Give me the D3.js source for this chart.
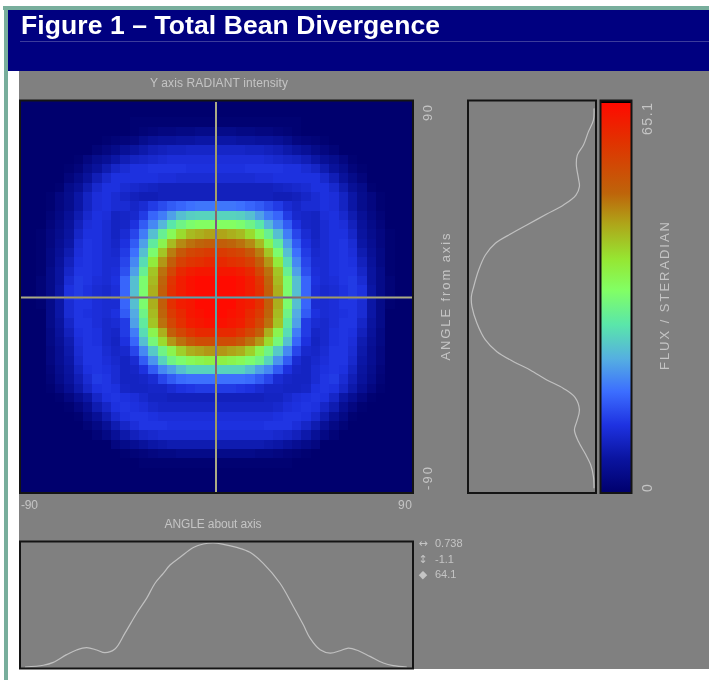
<!DOCTYPE html>
<html>
<head>
<meta charset="utf-8">
<script src="https://d3js.org/d3.v7.min.js"></script>
<style>
    html, body { margin: 0; padding: 0; background: white; }
    svg { display: block; }
    text { font-family: "Liberation Sans", Arial, sans-serif; fill: #c4c4c4; }
</style>
</head>
<body>
<svg id="chart" width="709" height="680"></svg>
<script>
// flux per cell. Left half only, the right half mirrors it.
const fluxUpper = [
    [0,0,0,0,0,0,0,0,0,0,0,0,0,0,0,0,0,0,0,0,0],
    [0,0,0,0,0,0,0,0,0,0,0,0,0,0,0,0,0,0,0,0,0],
    [0,0,0,0,0,0,0,0,0,0,0,0,.5,.5,.5,.5,.5,.5,.5,.5,.5],
    [0,0,0,0,0,0,0,0,0,0,0,0,.5,1,1.5,2,2,2.5,2.5,3,3],
    [0,0,0,0,0,0,0,0,0,.5,1,1.5,2,3.5,4.5,5,5,5.5,5.5,6,6],
    [0,0,0,0,0,0,0,0,1,2,3,4.5,5.5,6.5,7.5,8,8.5,8.5,9,9,9],
    [0,0,0,0,0,0,.5,2,3.5,4.5,6,7.5,8.5,9,9.5,10,10.5,10.5,10.5,10.5,10.5],
    [0,0,0,0,0,.5,1.5,3.5,5,7,9,10,11,11,11.5,11.5,11.5,11.5,11,11,11],
    [0,0,0,0,0,1.5,3,5,7.5,9.5,11,11,11,11,11,10.5,10.5,10,10,10,10],
    [0,0,0,0,.5,3,4.5,7,9.5,11,11,10,9.5,9,8.5,8,8,8,8,8,8],
    [0,0,0,.5,2,3.5,6,8.5,10.5,11,10,9,8,7.5,7.5,8,8,8,8,8,8],
    [0,0,0,.5,2,3.5,6,8.5,10.5,11,10,10,9,10,12,13.5,15,16,17,17.5,17.5],
    [0,0,0,1,2.5,4.5,7,9.5,11,10.5,8.5,9,9.5,12,16,18,21,24,25.5,26,26],
    [0,0,0,1.5,3,5,8,10.5,11,10,8.5,9,11,15,19,23,28,31,33,34,34],
    [0,0,.5,2,3.5,5.5,9,11,11,10,8.5,10,13,18,24,30,35,40,43,44,45],
    [0,0,.5,2,4,6,10,11.5,11,10,9,11,15,21,29,36,43,47,49,50,51],
    [0,0,.5,2.5,4.5,7,10.5,11.5,11,10,9.5,12,17,24,33,42,48,52,55,56,57],
    [0,0,.5,2.5,5,8,11,11.5,11,10,10,13,19,27,38,46,51,56,58,59,60],
    [0,0,.5,3,5.5,9,11.5,11.5,11,10,10.5,14,21,30,42,49,55,60,62,63,63],
    [0,0,1,3,5.5,10,12,11.5,10.5,10,11,16,24,33,43,50,58,62,64,65,65],
    [0,0,1,3,6,11,12,11,10,9.5,10.5,16,24,33,44,51,59,62,64,65,65]
];
const fluxLower = [
    [0,0,.5,3,6,10,11.5,11.5,10.5,10,10,16,24,33,44,51,59,62,63,65,65],
    [0,0,0,3,6,10,11.5,11,10.5,10,11,15,22,31,43,50,57,60,63,64,65],
    [0,0,0,3,5.5,9,11.5,11.5,10.5,9.5,10,12,21,29,42,49,55,59,62,63,64],
    [0,0,0,2.5,5,8,11,11.5,11,9.5,9,12,18,27,36,44,51,55,58,60,60],
    [0,0,0,2.5,4.5,7,10.5,11.5,11,9.5,8.5,11,16,24,32,40,46,49,52,54,54],
    [0,0,0,2,4,6.5,10,11.5,11.5,10,9,9.5,13,19,25,31,36,41,44,45,46],
    [0,0,0,2,4,6,9.5,11.5,11.5,10.5,9.5,8.5,10,15,20,26,31,33,35,36,37],
    [0,0,0,1.5,3.5,5.5,8.5,11,11.5,11,10,8.5,9,11,15,19,21,24,26,26,26],
    [0,0,0,1,3,5,7.5,10,12,11.5,10,8.5,8.5,9,10,13,15,16.5,17,17,17],
    [0,0,0,.5,2,4,6.5,9,11,11.5,11,9,8.5,8.5,9,9,10,11,11.5,12,12],
    [0,0,0,0,.5,2,4,6,9,11,11.5,11,10.5,9.5,8.5,8.5,8,8,8,8,8],
    [0,0,0,0,0,.5,2,4,7,9,11,11.5,11,10.5,9.5,9,9,9,9,9,9],
    [0,0,0,0,0,0,.5,2.5,4.5,7,9.5,11,11.5,11.5,11,10.5,10.5,10.5,10.5,10.5,10.5],
    [0,0,0,0,0,0,0,1,2.5,4.5,7,9,10.5,11.5,11.5,11.5,11,11,11,11,11],
    [0,0,0,0,0,0,0,0,1,2.5,4.5,6.5,8,9,9.5,10,10,10,10,10,10],
    [0,0,0,0,0,0,0,0,0,0,2,3,4,5,6,6.5,7,7,7,7,7],
    [0,0,0,0,0,0,0,0,0,0,0,.5,1,1.5,2,2.5,2.5,3,3,3,3],
    [0,0,0,0,0,0,0,0,0,0,0,0,0,.5,.5,.5,.5,.5,.5,.5,.5],
    [0,0,0,0,0,0,0,0,0,0,0,0,0,0,0,0,0,0,0,0,0],
    [0,0,0,0,0,0,0,0,0,0,0,0,0,0,0,0,0,0,0,0,0],
    [0,0,0,0,0,0,0,0,0,0,0,0,0,0,0,0,0,0,0,0,0]
];

// horizontal profile, bottom panel
const xAngles = [-87.7,-79.3,-74.7,-68.6,-64,-59.4,-54.8,-51,-46.4,-41.8,-36.4,-31.8,-28,-24.2,-21.1,-16.5,-10.4,-5.8,-1.2,3.4,9.5,15.6,21.7,29.4,35.5,40.1,43.2,47.8,52.4,57,60.8,65.4,70.7,76.8,81.4,87.6];
const xFlux = [0,.9,2.4,6.4,8.8,10,8.8,7.4,9.3,17.5,27.8,35.6,43.3,48.4,52.7,56.7,61.8,63.6,64.1,63.4,61.8,59.3,53.6,43.3,31.3,21.8,14.9,8.9,7.2,8.4,9.8,8.4,5.5,2.1,.7,0];

// vertical profile, right panel
const yAngles = [86.6,81.2,75.9,69.7,65.1,60.5,54.4,50.6,46.7,42.1,38,32.9,29.1,24.5,19.1,12.2,4.5,0,-4.7,-12.3,-20,-25.4,-30,-33.8,-38.4,-42.3,-46.4,-52.2,-57.6,-61.4,-66.8,-72.2,-77.6,-82.9,-88.3];
const yFlux = [0,.3,2.9,5.5,8.7,9.2,8.1,7.6,9.4,15.9,24.6,35,42.8,51.4,56.6,60.1,62.7,63.9,63.6,61,56.6,50.6,41.9,33.3,24.6,15.9,9.9,7.6,9,10.2,8.1,4.7,1.7,.3,0];

const colorStops = [0,5.6,11.2,16.8,22.3,28,33.8,39,44.9,50,58.6,65.1];
const colorValues = ["#00006e","#0a14a0","#1e32e1","#3c6eff","#55afe1","#5ae6aa","#82ff64","#96e632","#afa519","#be640a","#e13200","#ff0a00"];

const stats = [["\u2194","0.738"],["\u2195","-1.1"],["\u25C6","64.1"]];

const svg = d3.select("#chart");

// page frame
svg.append("rect").attr("x", 3).attr("y", 6).attr("width", 706).attr("height", 4).attr("fill", "#78ae9c");
svg.append("rect").attr("x", 4).attr("y", 6).attr("width", 4).attr("height", 674).attr("fill", "#78ae9c");
svg.append("rect").attr("x", 8).attr("y", 10).attr("width", 701).attr("height", 61).attr("fill", "#000080");
svg.append("rect").attr("x", 19).attr("y", 71).attr("width", 690).attr("height", 598).attr("fill", "#808080");
svg.append("line").attr("x1", 20).attr("x2", 709).attr("y1", 41.5).attr("y2", 41.5).attr("stroke", "#3c3c9c");
svg.append("text").attr("x", 21).attr("y", 34)
    .style("font-size", "26.5px").style("font-weight", "bold").style("fill", "white")
    .attr("textLength", 419).attr("lengthAdjust", "spacing")
    .text("Figure 1 \u2013 Total Bean Divergence");

// heatmap. The two halves sit a little apart, the crosshair covers the seam.
const cols = d3.range(42), rows = d3.range(42);
const x = d3.scaleBand().domain(cols).range([20, 412]);
const y = d3.scaleBand().domain(rows).range([101, 493]);
const color = d3.scaleLinear().domain(colorStops).range(colorValues).clamp(true);
const flux = fluxUpper.concat(fluxLower);
const cell = (r, c) => flux[r][c < 21 ? c : 41 - c];
const cx = c => x(c) + (c < 21 ? -2.3 : 1.3);
const cy = r => y(r) + (r < 21 ? -2.5 : 2.5);

svg.append("clipPath").attr("id", "plot").append("rect")
    .attr("x", 20).attr("y", 101).attr("width", 392).attr("height", 392);

svg.append("g").attr("clip-path", "url(#plot)").attr("shape-rendering", "crispEdges")
    .selectAll("rect")
    .data(d3.cross(rows, cols)).enter().append("rect")
    .attr("x", d => cx(d[1]))
    .attr("y", d => cy(d[0]))
    .attr("width", d => x.bandwidth() + (d[1] == 20 ? 4 : .5))
    .attr("height", d => y.bandwidth() + (d[0] == 20 ? 5.5 : .5))
    .attr("fill", d => color(cell(d[0], d[1])));

// crosshair inverts what is under it
const cross = svg.append("g").attr("stroke", "white").attr("stroke-width", 2)
    .style("mix-blend-mode", "difference").attr("opacity", .67);
cross.append("line").attr("x1", 216).attr("x2", 216).attr("y1", 102).attr("y2", 492);
cross.append("line").attr("x1", 20).attr("x2", 412).attr("y1", 297.5).attr("y2", 297.5);

function box(x0, y0, w, h) {
    svg.append("rect").attr("x", x0).attr("y", y0).attr("width", w).attr("height", h)
        .attr("fill", "none").attr("stroke", "#141414").attr("stroke-width", 2);
}
box(20, 100.5, 393, 392.5);

// bottom profile
const px = d3.scaleLinear().domain([-90, 90]).range([20, 412]);
const py = d3.scaleLinear().domain([0, 64.1]).range([667, 543]);
const lineX = d3.line().curve(d3.curveCatmullRom).x((d, i) => px(xAngles[i])).y(d => py(d));
svg.append("path").datum(xFlux).attr("d", lineX)
    .attr("fill", "none").attr("stroke", "#c0c0c0").attr("stroke-width", 1.2);
box(20, 541.5, 393, 127);

// right profile
const qx = d3.scaleLinear().domain([0, 64.1]).range([594, 471]);
const qy = d3.scaleLinear().domain([90, -90]).range([101, 492]);
const lineY = d3.line().curve(d3.curveCatmullRom).x(d => qx(d)).y((d, i) => qy(yAngles[i]));
svg.append("path").datum(yFlux).attr("d", lineY)
    .attr("fill", "none").attr("stroke", "#c0c0c0").attr("stroke-width", 1.2);
box(468, 100.5, 128, 392.5);

// colour bar
const defs = svg.append("defs");
const grad = defs.append("linearGradient").attr("id", "bar").attr("x1", 0).attr("x2", 0).attr("y1", 1).attr("y2", 0);
colorStops.forEach((s, i) => {
    grad.append("stop").attr("offset", s / 65.1).attr("stop-color", colorValues[i]);
});
svg.append("rect").attr("x", 600).attr("y", 100).attr("width", 32).attr("height", 4).attr("fill", "#000");
svg.append("rect").attr("x", 601).attr("y", 103).attr("width", 30).attr("height", 389).attr("fill", "url(#bar)");
box(600.5, 100.5, 31, 392.5);

// labels
function label(txt, x0, y0, size, anchor, len) {
    const t = svg.append("text").attr("x", x0).attr("y", y0)
        .style("font-size", size + "px").attr("text-anchor", anchor).text(txt);
    if (len) t.attr("textLength", len).attr("lengthAdjust", "spacing");
    return t;
}
function vlabel(txt, x0, y0, size, anchor, len) {
    const t = svg.append("text").attr("transform", "translate(" + x0 + "," + y0 + ") rotate(-90)")
        .style("font-size", size + "px").attr("text-anchor", anchor).text(txt);
    if (len) t.attr("textLength", len).attr("lengthAdjust", "spacing");
    return t;
}
label("Y axis RADIANT intensity", 219, 87, 12, "middle", 138);
label("ANGLE about axis", 213, 528, 12, "middle", 97);
label("-90", 21, 509, 12, "start", 17);
label("90", 412, 509, 12, "end", 14);
vlabel("90", 432, 121, 13, "start", 16);
vlabel("-90", 432, 490, 13, "start", 23);
vlabel("ANGLE from axis", 450, 297, 13, "middle", 127);
vlabel("65.1", 652, 135, 14, "start", 32);
vlabel("0", 652, 492, 14, "start");
vlabel("FLUX / STERADIAN", 669, 296, 13, "middle", 148);

stats.forEach((s, i) => {
    svg.append("text").attr("x", 423).attr("y", 547 + i * 15.5).attr("text-anchor", "middle")
        .style("font-family", "DejaVu Sans").style("font-size", "11px").text(s[0]);
    label(s[1], 435, 547 + i * 15.5, 11, "start");
});
</script>
</body>
</html>
